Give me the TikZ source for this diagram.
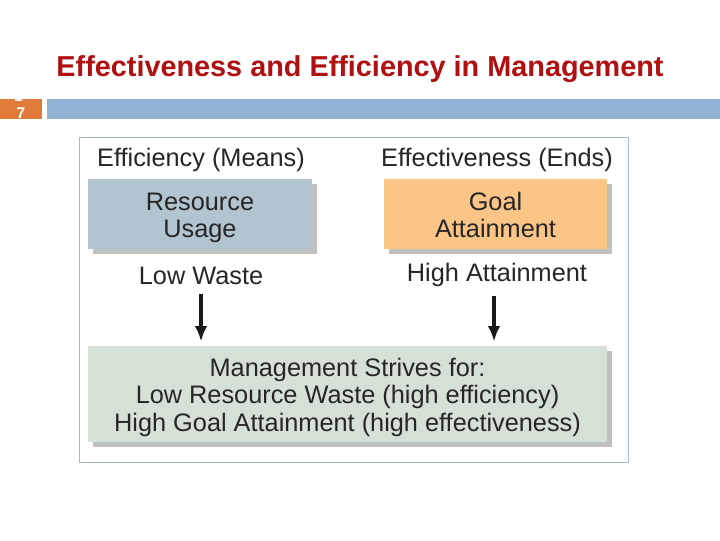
\documentclass[tikz,border=0pt]{standalone}
\usepackage{fontspec}
\setmainfont{Liberation Sans}
\usetikzlibrary{shadows,arrows.meta}

\definecolor{titlered}{RGB}{176,16,16}
\definecolor{tabbar}{RGB}{143,179,211}
\definecolor{tabnum}{RGB}{224,123,58}
\definecolor{framegray}{RGB}{169,185,195}
\definecolor{meansblue}{RGB}{179,196,209}
\definecolor{endsorange}{RGB}{251,197,135}
\definecolor{strivegreen}{RGB}{213,225,212}

\newcommand{\boxstrut}{\rule{0pt}{19pt}}
\newcommand{\boxdepth}{\rule[-5pt]{0pt}{5pt}}

\tikzset{
	caption/.style={font=\fontsize{18}{19.5}\selectfont, text=black!85},
	box/.style={caption, align=center, inner sep=0pt, minimum height=1.75cm,
		drop shadow={shadow xshift=3.5pt, shadow yshift=-3.5pt, opacity=0.35, fill=black!70}},
	downarrow/.style={-{Latex[length=11pt,width=9pt]}, line width=2.6pt, black!90}
}

\begin{document}
\begin{tikzpicture}[x=0.025cm, y=-0.025cm]

		\useasboundingbox (0, 0) rectangle (720, 540);
		\fill[white](0, 0) rectangle (720, 540);

		\node[font=\fontsize{20.5}{24}\bfseries\selectfont, text=titlered] (title) at(360, 69){Effectiveness and Efficiency in Management};

		\fill[tabnum](0, 99) rectangle (42, 119);
		\fill[tabbar](47, 99) rectangle (720, 119);
		\begin{scope}
			\clip(0, 99) rectangle (42, 119);
			\node[font=\fontsize{11}{12}\bfseries\selectfont, text=white, align=center] (slideno) at(21, 105){1-\\7};
		\end{scope}

		\draw[framegray, line width=0.6pt](79, 137) rectangle (628, 462);

		\node[caption] (means) at(201, 160){Efficiency (Means)};
		\node[caption] (ends) at(497, 160){Effectiveness (Ends)};

		\node[box, fill=meansblue, minimum width=5.6cm] (usage) at(200, 214){\boxstrut Resource\\Usage\boxdepth};
		\node[box, fill=endsorange, minimum width=5.575cm] (goal) at(495.5, 214){\boxstrut Goal\\Attainment\boxdepth};

		\node[caption] (waste) at(201, 276){Low Waste};
		\node[caption] (attain) at(497, 275){High Attainment};

		\node[box, fill=strivegreen, minimum width=12.975cm, minimum height=2.4cm] (strive) at(347.5, 394){\boxstrut Management Strives for:\\Low Resource Waste (high efficiency)\\High Goal Attainment (high effectiveness)\boxdepth};

		\draw[downarrow, shorten <=3pt, shorten >=3pt](waste) -- (waste |- strive.north);
		\draw[downarrow, shorten <=3pt, shorten >=3pt](494, 0 |- attain.south) -- (494, 0 |- strive.north);

	\end{tikzpicture}
\end{document}
